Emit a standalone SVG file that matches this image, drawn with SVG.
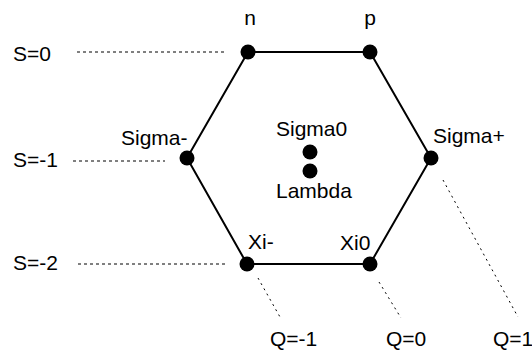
<svg xmlns="http://www.w3.org/2000/svg" width="532" height="350" viewBox="0 0 532 350">
<style>
text{font-family:"Liberation Sans",Arial,sans-serif;font-size:21px;fill:#000}
.edge{stroke:#000;stroke-width:2;fill:none}
.guide{stroke:#000;stroke-width:1;stroke-dasharray:3 3;fill:none}
.dguide{stroke:#000;stroke-width:1;stroke-dasharray:2 4;fill:none}
.dot{fill:#000}
</style>
<rect width="532" height="350" fill="#fff"/>
<g id="connectors">
<polygon class="edge" points="248,52 370,52 431,158 370,264 247,264 187,158"/>
<line class="guide" x1="77" y1="52" x2="225" y2="52"/>
<line class="guide" x1="73" y1="161" x2="165" y2="161"/>
<line class="guide" x1="78" y1="264" x2="227" y2="264"/>
<line class="dguide" x1="258" y1="278" x2="280" y2="317"/>
<line class="dguide" x1="379" y1="282" x2="401" y2="318"/>
<line class="dguide" x1="443" y1="180" x2="518" y2="317"/>
</g>
<g id="n"><circle class="dot" cx="248" cy="52" r="7.5"/><text x="250" y="25" text-anchor="middle">n</text></g>
<g id="p"><circle class="dot" cx="370" cy="52" r="7.5"/><text x="370" y="25" text-anchor="middle">p</text></g>
<g id="sigma-minus"><circle class="dot" cx="187" cy="158" r="7.5"/><text x="121" y="145">Sigma-</text></g>
<g id="sigma-plus"><circle class="dot" cx="431" cy="158" r="7.5"/><text x="433" y="143">Sigma+</text></g>
<g id="sigma0"><circle class="dot" cx="310" cy="152" r="7.5"/><text x="276" y="136">Sigma0</text></g>
<g id="lambda"><circle class="dot" cx="310" cy="171" r="7.5"/><text x="276" y="198">Lambda</text></g>
<g id="xi-minus"><circle class="dot" cx="247" cy="264" r="7.5"/><text x="248" y="249">Xi-</text></g>
<g id="xi0"><circle class="dot" cx="370" cy="264" r="7.5"/><text x="340" y="250">Xi0</text></g>
<g id="labels">
<text x="13" y="61">S=0</text>
<text x="13" y="167">S=-1</text>
<text x="13" y="270">S=-2</text>
<text x="270" y="346">Q=-1</text>
<text x="386" y="346">Q=0</text>
<text x="493" y="346">Q=1</text>
</g>
</svg>
